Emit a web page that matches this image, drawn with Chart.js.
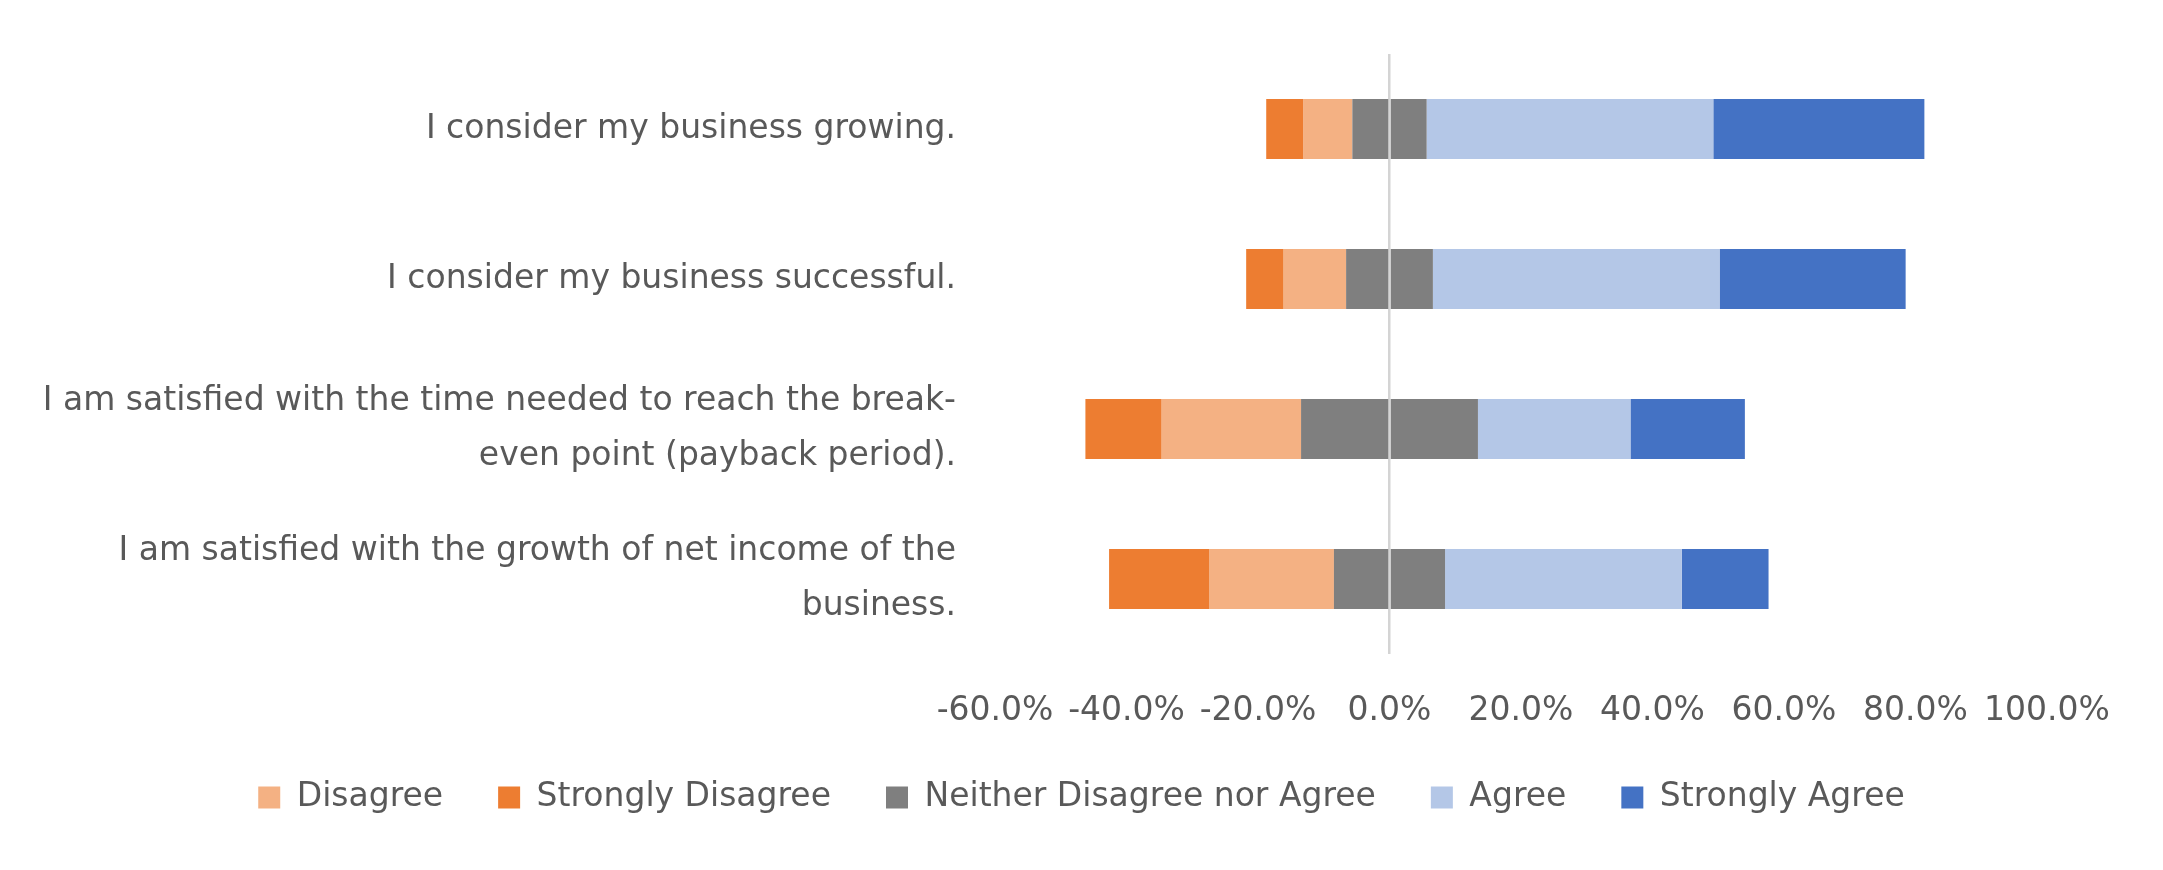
<!DOCTYPE html>
<html>
<head>
<meta charset="utf-8">
<script src="https://cdn.jsdelivr.net/npm/chart.js@4.4.1/dist/chart.umd.min.js"></script>
<style>
  html, body { margin: 0; padding: 0; background: #fff; }
  #wrap { width: 2163px; height: 870px; }
</style>
</head>
<body>
<div id="wrap"><canvas id="likertChart" width="2163" height="870"></canvas></div>
<script>
// statements, top to bottom
const statements = [
  ['I consider my business growing.'],
  ['I consider my business successful.'],
  ['I am satisfied with the time needed to reach the break-', 'even point (payback period).'],
  ['I am satisfied with the growth of net income of the', 'business.']
];

// share of answers in %
const stronglyDisagree = [5.6, 5.7, 11.6, 15.2];
const disagree = [7.5, 9.5, 21.2, 19.0];
const neutral = [11.3, 13.2, 26.9, 16.9];
const agree = [43.6, 43.6, 23.2, 36.0];
const stronglyAgree = [32.1, 28.3, 17.4, 13.2];

const axisMin = -60;
const axisMax = 100;
const axisStep = 20;

const textColor = '#595959';
const fontFamily = '"DejaVu Sans", sans-serif';

// neutral is split around zero, disagree side goes negative
const neg = arr => arr.map(v => -v);
const half = arr => arr.map(v => v / 2);

const data = {
  labels: statements,
  datasets: [
    { label: 'neutral-left', data: neg(half(neutral)), backgroundColor: '#7F7F7F' },
    { label: 'Disagree', data: neg(disagree), backgroundColor: '#F4B183' },
    { label: 'Strongly Disagree', data: neg(stronglyDisagree), backgroundColor: '#ED7D31' },
    { label: 'Neither Disagree nor Agree', data: half(neutral), backgroundColor: '#7F7F7F' },
    { label: 'Agree', data: agree, backgroundColor: '#B4C7E7' },
    { label: 'Strongly Agree', data: stronglyAgree, backgroundColor: '#4472C4' }
  ]
};

const options = {
  indexAxis: 'y',
  responsive: false,
  animation: false,
  datasets: {
    bar: { barPercentage: 0.4, categoryPercentage: 1, borderWidth: 0 }
  },
  layout: { padding: { top: 54, right: 0, bottom: 46, left: 0 } },
  plugins: {
    tooltip: { enabled: false },
    legend: {
      position: 'bottom',
      labels: {
        filter: item => item.text !== 'neutral-left',
        boxWidth: 22,
        boxHeight: 22,
        padding: 55,
        color: textColor,
        font: { family: fontFamily, size: 33 }
      }
    }
  },
  scales: {
    x: {
      stacked: true,
      min: axisMin,
      max: axisMax,
      z: 1,
      border: { display: false },
      grid: {
        drawTicks: false,
        color: ctx => ctx.tick && ctx.tick.value === 0 ? '#D4D4D4' : 'rgba(0,0,0,0)',
        lineWidth: 2.5
      },
      afterFit: axis => { axis.height = 72; },
      ticks: {
        stepSize: axisStep,
        padding: 38,
        maxRotation: 0,
        minRotation: 0,
        autoSkip: false,
        color: textColor,
        font: { family: fontFamily, size: 33 },
        callback: v => v.toFixed(1) + '%'
      }
    },
    y: {
      stacked: true,
      border: { display: false },
      grid: { display: false, drawTicks: false },
      afterFit: axis => {
        axis.width = 995;
        axis.paddingTop = 0;
        axis.paddingBottom = 0;
      },
      ticks: {
        padding: 39,
        color: textColor,
        font: { family: fontFamily, size: 33, lineHeight: 1.65 }
      }
    },
    // empty strip on the right so the plot ends at 100%
    yRight: {
      axis: 'y',
      position: 'right',
      border: { display: false },
      grid: { display: false, drawTicks: false },
      ticks: { display: false },
      afterFit: axis => {
        axis.width = 116;
        axis.paddingTop = 0;
        axis.paddingBottom = 0;
      }
    }
  }
};

new Chart(document.getElementById('likertChart'), {
  type: 'bar',
  data,
  options
});
</script>
</body>
</html>
